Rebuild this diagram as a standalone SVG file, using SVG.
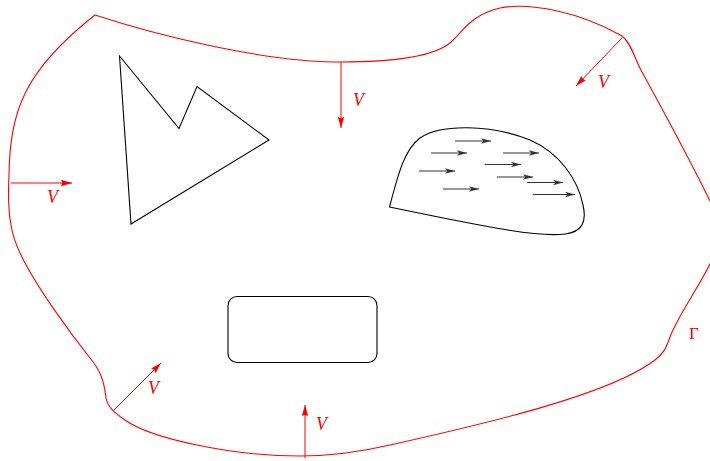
<svg xmlns="http://www.w3.org/2000/svg" width="710" height="461" viewBox="0 0 710 461">
<defs>
<marker id="rh" markerUnits="userSpaceOnUse" markerWidth="12" markerHeight="8" viewBox="0 0 12 8" refX="11" refY="4" orient="auto">
<path d="M0,0.8 L11,4 L0,7.2 Q2,4 0,0.8 Z" fill="#ff0000"/>
</marker>
<marker id="gh" markerUnits="userSpaceOnUse" markerWidth="11" markerHeight="8" viewBox="0 0 11 8" refX="10" refY="4" orient="auto">
<path d="M0,1.2 L10,4 L0,6.8 L2.5,4 Z" fill="#333"/>
</marker>
<style>
.bd{fill:none;stroke:#ff0000;stroke-width:1.1}
.va{fill:none;stroke:#ff0000;stroke-width:1;marker-end:url(#rh)}
.ob{fill:none;stroke:#000;stroke-width:1.1}
.ga{fill:none;stroke:#333;stroke-width:1.1;marker-end:url(#gh)}
.lb{font-family:"Liberation Serif",serif;font-style:italic;font-size:18px;fill:#ff0000}
.gm{font-family:"Liberation Serif",serif;font-size:17px;fill:#ff0000}
</style>
</defs>
<g id="boundary">
<path class="bd" d="M95,15 C150,33 260,62 340,62 C400,62 435,55 450,43 C462,33 470,15 500,8 C530,2 580,12 622,36 C632,44 635,60 642,72 C660,105 685,150 712,205 L712,260 C700,285 685,305 673,330 C667,342 668,350 655,360 C610,395 480,425 390,445 C360,452 330,456 300,456 C230,456 150,438 125,420 C115,413 108,408 106,398 C104,380 100,370 90,358 C70,333 35,285 20,253 C14,240 12,232 11,225 C8,210 8,195 9,175 C10,110 25,70 95,15 Z"/>
<text class="gm" x="689" y="339">Γ</text>
</g>
<g id="polygon">
<path class="ob" d="M119.5,56 L179,128.5 L197,86.5 L269,140 L131,224 Z"/>
</g>
<g id="rect">
<rect class="ob" x="228" y="296.5" width="149" height="66" rx="9" ry="9"/>
</g>
<g id="blob">
<path class="ob" d="M389.5,207 C398,175 404,150 420,138 C440,124 490,124 530,140 C560,153 578,180 583,205 C587,222 582,232 565,234 C540,237 500,230 389.5,207 Z"/>
<g id="flow">
<path class="ga" d="M455,141 L491,141"/>
<path class="ga" d="M431,153 L467,153"/>
<path class="ga" d="M503,153 L539,153"/>
<path class="ga" d="M485,164.5 L521,164.5"/>
<path class="ga" d="M419,171 L455,171"/>
<path class="ga" d="M497,177 L533,177"/>
<path class="ga" d="M527,182.5 L563,182.5"/>
<path class="ga" d="M443,189 L479,189"/>
<path class="ga" d="M533,194.5 L575,194.5"/>
</g>
</g>
<g id="connectors">
<path class="va" d="M341,62 L341,128"/>
<path class="va" d="M622,38 L576,86"/>
<path class="va" d="M11,183 L72,183"/>
<path class="va" d="M114,410 L161,363"/>
<path class="va" d="M305,458 L305,405"/>
</g>
<g id="labels">
<text class="lb" x="353" y="106">V</text>
<text class="lb" x="598" y="88">V</text>
<text class="lb" x="47" y="203">V</text>
<text class="lb" x="148" y="394">V</text>
<text class="lb" x="316" y="430">V</text>
</g>
</svg>
